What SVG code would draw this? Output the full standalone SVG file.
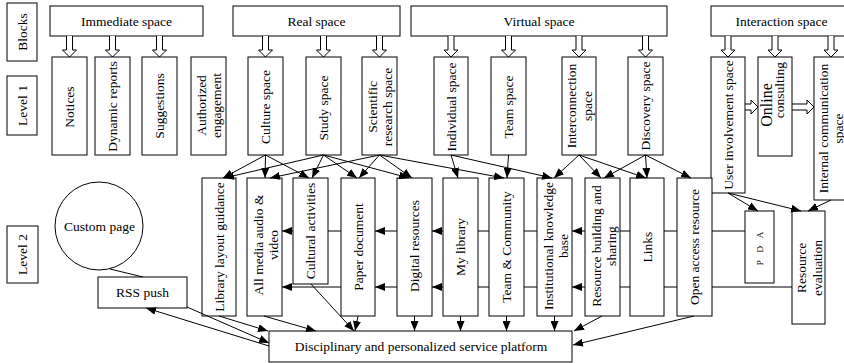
<svg xmlns="http://www.w3.org/2000/svg" xmlns:xlink="http://www.w3.org/1999/xlink" width="844" height="363" viewBox="0 0 844 363">
<style>
.b{fill:#fff;stroke:#000;stroke-width:1}
.t{font-family:"Liberation Serif","Times New Roman",serif;font-size:13.5px;fill:#000;text-anchor:middle;dominant-baseline:central}
.c{stroke:#000;stroke-width:1;fill:none;marker-end:url(#a)}
.l{stroke:#000;stroke-width:1;fill:none}
.h{fill:#fff;stroke:#000;stroke-width:1}
</style>
<defs>
<marker id="a" markerWidth="10" markerHeight="8" refX="10" refY="4" orient="auto" markerUnits="userSpaceOnUse"><path d="M0,0 L10,4 L0,8 z" fill="#000"/></marker>
<path id="hv" class="h" d="M-3,0 V14 H-7 L0,21 L7,14 H3 V0"/>
</defs>
<rect width="844" height="363" fill="#fff"/>

<g id="labels">
<rect class="b" x="7" y="3" width="30" height="58"/>
<text class="t" transform="translate(22,32) rotate(-90)">Blocks</text>
<rect class="b" x="7" y="76" width="30" height="59"/>
<text class="t" transform="translate(22,105.5) rotate(-90)">Level 1</text>
<rect class="b" x="7" y="226" width="31" height="57"/>
<text class="t" transform="translate(22.5,254.5) rotate(-90)">Level 2</text>
</g>

<g id="block-immediate"><rect class="b" x="50" y="6" width="153" height="30"/><text class="t" x="126.5" y="21">Immediate space</text></g>
<g id="block-real"><rect class="b" x="233" y="6" width="167" height="30"/><text class="t" x="316.5" y="21">Real space</text></g>
<g id="block-virtual"><rect class="b" x="411" y="6" width="256" height="30"/><text class="t" x="539" y="21">Virtual space</text></g>
<g id="block-interaction"><rect class="b" x="711" y="6" width="141" height="30"/><text class="t" x="781.5" y="21">Interaction space</text></g>

<g id="hollow-arrows">
<use xlink:href="#hv" x="69.5" y="36"/>
<use xlink:href="#hv" x="112.5" y="36"/>
<use xlink:href="#hv" x="159.5" y="36"/>
<use xlink:href="#hv" x="265.5" y="36"/>
<use xlink:href="#hv" x="323.5" y="36"/>
<use xlink:href="#hv" x="379.5" y="36"/>
<use xlink:href="#hv" x="451" y="36"/>
<use xlink:href="#hv" x="508.5" y="36"/>
<use xlink:href="#hv" x="579" y="36"/>
<use xlink:href="#hv" x="645.5" y="36"/>
<use xlink:href="#hv" x="728" y="36"/>
<use xlink:href="#hv" x="775" y="36"/>
<use xlink:href="#hv" x="831" y="36"/>
<path class="h" d="M745,104 H751 V100 L758,107 L751,114 V110 H745"/>
<path class="h" d="M792,104 H807 V100 L814,107 L807,114 V110 H792"/>
</g>

<g id="l1-notices"><rect class="b" x="52" y="57" width="35" height="98"/><text class="t" transform="translate(69.5,107) rotate(-90)">Notices</text></g>
<g id="l1-dynamic"><rect class="b" x="95" y="57" width="35" height="98"/><text class="t" transform="translate(112.5,106.5) rotate(-90)">Dynamic reports</text></g>
<g id="l1-suggestions"><rect class="b" x="142" y="57" width="35" height="98"/><text class="t" transform="translate(159.5,106) rotate(-90)">Suggestions</text></g>
<g id="l1-authorized"><rect class="b" x="191" y="57" width="35" height="98"/><text class="t" transform="translate(208.5,105.5) rotate(-90)"><tspan x="0" y="-7.5">Authorized</tspan><tspan x="0" y="7.5">engagement</tspan></text></g>
<g id="l1-culture"><rect class="b" x="248" y="57" width="35" height="98"/><text class="t" transform="translate(265.5,107) rotate(-90)">Culture space</text></g>
<g id="l1-study"><rect class="b" x="306" y="57" width="35" height="98"/><text class="t" transform="translate(323.5,108) rotate(-90)">Study space</text></g>
<g id="l1-scientific"><rect class="b" x="362" y="57" width="35" height="98"/><text class="t" transform="translate(379.5,107) rotate(-90)"><tspan x="0" y="-7.5">Scientific</tspan><tspan x="0" y="7.5">research space</tspan></text></g>
<g id="l1-individual"><rect class="b" x="434" y="57" width="34" height="98"/><text class="t" transform="translate(451,107) rotate(-90)">Individual space</text></g>
<g id="l1-team"><rect class="b" x="491" y="57" width="35" height="98"/><text class="t" transform="translate(508.5,107) rotate(-90)">Team space</text></g>
<g id="l1-interconnection"><rect class="b" x="562" y="57" width="34" height="98"/><text class="t" transform="translate(579,106) rotate(-90)"><tspan x="0" y="-8">Interconnection</tspan><tspan x="0" y="8">space</tspan></text></g>
<g id="l1-discovery"><rect class="b" x="628" y="57" width="35" height="98"/><text class="t" transform="translate(645.5,106) rotate(-90)">Discovery space</text></g>
<g id="l1-user"><rect class="b" x="711" y="57" width="34" height="136"/><text class="t" transform="translate(728,125) rotate(-90)">User involvement space</text></g>
<g id="l1-online"><rect class="b" x="758" y="57" width="34" height="99"/><text class="t" transform="translate(775,98) rotate(-90)"><tspan x="-7" y="-9" style="font-size:16px">Online</tspan><tspan x="8" y="4">consulting</tspan></text></g>
<g id="l1-internal"><rect class="b" x="814" y="57" width="34" height="143"/><text class="t" transform="translate(830,128.5) rotate(-90)"><tspan x="0" y="-7">Internal communication</tspan><tspan x="0" y="7.5">space</tspan></text></g>

<g id="l2-custom"><circle class="b" cx="99" cy="226" r="44"/><text class="t" x="99.5" y="226">Custom page</text></g>
<g id="l2-rss"><rect class="b" x="98" y="277" width="89" height="31"/><text class="t" x="142.5" y="292">RSS push</text></g>
<g id="l2-library"><rect class="b" x="202" y="178" width="34" height="138"/><text class="t" transform="translate(219,247) rotate(-90)">Library layout guidance</text></g>
<g id="l2-media"><rect class="b" x="247" y="178" width="35" height="138"/><text class="t" transform="translate(265,245) rotate(-90)"><tspan x="0" y="-7.5">All media audio &amp;</tspan><tspan x="0" y="8">video</tspan></text></g>
<g id="l2-cultural"><rect class="b" x="293" y="178" width="35" height="106"/><text class="t" transform="translate(310.5,231) rotate(-90)">Cultural activities</text></g>
<g id="l2-paper"><rect class="b" x="341" y="178" width="34" height="138"/><text class="t" transform="translate(358,247) rotate(-90)">Paper document</text></g>
<g id="l2-digital"><rect class="b" x="397" y="178" width="35" height="138"/><text class="t" transform="translate(414.5,246) rotate(-90)">Digital resources</text></g>
<g id="l2-mylibrary"><rect class="b" x="443" y="178" width="35" height="138"/><text class="t" transform="translate(460.5,247) rotate(-90)">My library</text></g>
<g id="l2-teamcomm"><rect class="b" x="489" y="178" width="35" height="138"/><text class="t" transform="translate(506.5,247) rotate(-90)">Team &amp; Community</text></g>
<g id="l2-institutional"><rect class="b" x="537" y="178" width="35" height="138"/><text class="t" transform="translate(555,246) rotate(-90)"><tspan x="0" y="-7.5">Institutional knowledge</tspan><tspan x="0" y="8">base</tspan></text></g>
<g id="l2-resbuild"><rect class="b" x="585" y="178" width="35" height="138"/><text class="t" transform="translate(603,246) rotate(-90)"><tspan x="0" y="-7.5">Resource building and</tspan><tspan x="0" y="8">sharing</tspan></text></g>
<g id="l2-links"><rect class="b" x="630" y="178" width="34" height="138"/><text class="t" transform="translate(647,247) rotate(-90)">Links</text></g>
<g id="l2-openaccess"><rect class="b" x="677" y="178" width="35" height="138"/><text class="t" transform="translate(694.5,247) rotate(-90)">Open access resource</text></g>
<g id="l2-pda"><rect class="b" x="745" y="211" width="29" height="72"/><text class="t" transform="translate(759.5,247) rotate(-90)" style="font-size:9px;letter-spacing:3px">P D A</text></g>
<g id="l2-reseval"><rect class="b" x="792" y="211" width="33" height="113"/><text class="t" transform="translate(808.5,268) rotate(-90)"><tspan x="0" y="-8">Resource</tspan><tspan x="0" y="8">evaluation</tspan></text></g>
<g id="platform"><rect class="b" x="269" y="331" width="303" height="31"/><text class="t" x="421" y="346">Disciplinary and personalized service platform</text></g>

<g id="connectors">
<line class="c" x1="265.5" y1="155" x2="223" y2="178"/>
<line class="c" x1="265.5" y1="155" x2="265" y2="178"/>
<line class="c" x1="265.5" y1="155" x2="309" y2="178"/>
<line class="c" x1="323.5" y1="155" x2="224" y2="178"/>
<line class="c" x1="323.5" y1="155" x2="312" y2="178"/>
<line class="c" x1="323.5" y1="155" x2="357" y2="178"/>
<line class="c" x1="323.5" y1="155" x2="409" y2="178"/>
<line class="c" x1="379.5" y1="155" x2="270" y2="178"/>
<line class="c" x1="379.5" y1="155" x2="359" y2="178"/>
<line class="c" x1="379.5" y1="155" x2="412" y2="178"/>
<line class="c" x1="379.5" y1="155" x2="504" y2="178"/>
<line class="c" x1="451" y1="155" x2="458" y2="178"/>
<line class="c" x1="451" y1="155" x2="552" y2="178"/>
<line class="c" x1="508.5" y1="155" x2="507" y2="178"/>
<line class="c" x1="579" y1="155" x2="554" y2="178"/>
<line class="c" x1="579" y1="155" x2="601" y2="178"/>
<line class="c" x1="579" y1="155" x2="646" y2="178"/>
<line class="c" x1="645.5" y1="155" x2="604" y2="178"/>
<line class="c" x1="645.5" y1="155" x2="647" y2="178"/>
<line class="c" x1="645.5" y1="155" x2="691" y2="178"/>
<line class="c" x1="728" y1="193" x2="758" y2="211"/>
<line class="c" x1="728" y1="193" x2="801" y2="211"/>
<line class="c" x1="831" y1="200" x2="808" y2="211"/>

<line class="l" x1="745" y1="231" x2="712" y2="231"/>
<line class="l" x1="677" y1="231" x2="664" y2="231"/>
<line class="l" x1="630" y1="231" x2="620" y2="231"/>
<line class="c" x1="585" y1="231" x2="572" y2="231"/>
<line class="l" x1="537" y1="231" x2="524" y2="231"/>
<line class="l" x1="489" y1="231" x2="478" y2="231"/>
<line class="c" x1="443" y1="231" x2="432" y2="231"/>
<line class="c" x1="397" y1="231" x2="375" y2="231"/>
<line class="l" x1="341" y1="231" x2="328" y2="231"/>
<line class="c" x1="293" y1="231" x2="282" y2="231"/>

<line class="l" x1="792" y1="287" x2="712" y2="287"/>
<line class="l" x1="677" y1="287" x2="664" y2="287"/>
<line class="l" x1="630" y1="287" x2="620" y2="287"/>
<line class="c" x1="585" y1="287" x2="572" y2="287"/>
<line class="l" x1="537" y1="287" x2="524" y2="287"/>
<line class="l" x1="489" y1="287" x2="478" y2="287"/>
<line class="c" x1="443" y1="287" x2="432" y2="287"/>
<line class="c" x1="397" y1="287" x2="375" y2="287"/>
<line class="c" x1="341" y1="287" x2="282" y2="287"/>

<line class="c" x1="219" y1="316" x2="268" y2="331"/>
<line class="c" x1="264" y1="316" x2="316" y2="331"/>
<line class="c" x1="311" y1="284" x2="354" y2="331"/>
<line class="c" x1="358" y1="316" x2="355" y2="331"/>
<line class="c" x1="414.5" y1="316" x2="414.5" y2="331"/>
<line class="c" x1="460.5" y1="316" x2="460.5" y2="331"/>
<line class="c" x1="506.5" y1="316" x2="506.5" y2="331"/>
<line class="c" x1="554.5" y1="316" x2="554.5" y2="331"/>
<line class="c" x1="602" y1="316" x2="574" y2="331"/>
<line class="c" x1="694" y1="316" x2="573" y2="345"/>
<line class="c" x1="187" y1="307" x2="269" y2="343"/>
<line class="c" x1="269" y1="346" x2="146" y2="308"/>
<line class="l" x1="110" y1="269" x2="143" y2="277"/>
</g>
</svg>
